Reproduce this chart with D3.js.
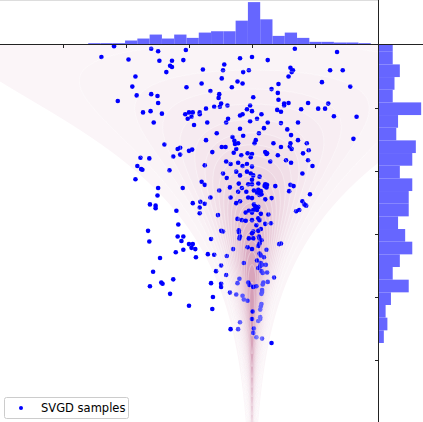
<!DOCTYPE html>
<html><head><meta charset="utf-8">
<script src="https://cdn.jsdelivr.net/npm/d3@7"></script>
<style>html,body{margin:0;padding:0;background:#fff;overflow:hidden;} svg{display:block;}</style>
</head><body><div id="chart"></div>
<script>
// ---- data (data units) ----
const sampleX = [-2.19,-1.60,-1.49,-1.05,-2.39,-1.96,-1.47,-1.27,-1.09,-0.44,-1.30,-1.27,-1.36,-0.78,-0.46,-1.85,-0.48,-1.90,-1.04,-0.80,
-0.66,-1.83,-1.60,-1.50,-0.52,-0.53,-2.13,-1.49,-0.49,-0.60,-0.51,-0.73,-0.39,-1.73,-1.61,-1.43,-1.06,-1.00,-0.94,-0.83,
-0.83,-1.02,-0.96,-0.38,-1.56,-0.71,-0.41,-0.92,-0.56,-0.73,-1.39,0.68,1.35,0.00,-0.19,0.25,0.61,0.65,0.63,-0.05,
-0.14,1.24,1.44,0.58,-0.23,-0.15,-0.32,0.42,1.11,1.56,0.31,0.41,0.02,0.42,0.51,0.58,0.51,0.89,1.21,-0.03,
1.05,1.16,0.78,-0.08,0.00,0.40,0.46,-0.19,-0.15,0.15,1.30,1.66,0.08,-0.03,0.25,0.46,0.73,-0.19,0.19,0.56,
0.11,-0.31,-0.14,0.62,-0.28,-0.27,-0.22,0.06,0.04,0.34,0.73,0.61,0.87,1.61,-1.18,-1.14,-1.00,-0.95,-0.48,-0.42,
-0.63,-1.77,-1.63,-1.25,-1.14,-0.41,-1.82,-1.76,-1.74,-1.31,-0.75,-0.46,-0.40,-1.85,-0.80,-0.75,-1.49,-1.10,-0.52,-1.50,
-0.66,-1.62,-1.53,-1.53,-0.94,-0.82,-0.75,-0.83,-1.20,-0.83,-0.54,-1.17,-1.65,-0.49,-0.46,-1.18,-1.09,-1.12,-1.63,-1.00,
-0.94,-0.65,-0.96,-0.90,-1.09,-1.21,-1.46,-0.89,-0.70,-0.60,-0.40,-0.49,-1.57,-0.57,-0.41,-1.25,-1.44,-1.42,-1.62,-0.65,
-0.49,-0.49,-0.35,-1.30,-0.62,-1.00,-0.63,0.60,0.63,0.46,-0.29,-0.25,-0.17,-0.07,0.00,-0.02,0.21,0.24,0.23,0.41,
0.54,0.81,0.90,0.29,-0.34,-0.22,-0.15,-0.08,0.00,0.62,0.89,0.96,-0.25,-0.08,-0.02,0.02,0.12,-0.19,0.80,-0.21,
-0.16,-0.06,0.00,0.10,0.00,0.21,0.24,0.23,0.20,0.37,0.61,0.66,-0.35,-0.22,-0.09,0.10,0.03,0.14,0.08,0.12,
0.15,-0.06,0.00,0.21,0.31,0.59,0.92,-0.34,-0.25,-0.19,0.80,0.83,0.86,0.03,0.05,0.06,0.10,0.08,0.02,0.00,
-0.05,-0.10,0.75,0.70,0.14,0.26,-0.23,-0.16,-0.10,0.00,0.10,0.12,0.21,0.30,0.07,-0.21,-0.21,0.14,0.10,0.02,
0.00,-0.19,-0.20,-0.05,0.11,0.12,0.02,0.15,0.43,0.46,-0.30,-0.07,0.00,0.10,0.12,0.23,0.12,0.14,0.19,0.08,
-0.13,0.14,0.16,0.13,0.22,0.10,0.15,0.17,0.24,-0.20,0.35,-0.23,-0.06,-0.04,0.02,0.07,0.18,0.17,0.25,0.16,
0.16,0.15,-0.25,-0.15,-0.13,-0.07,0.15,0.14,0.13,0.01,0.13,0.13,0.10,0.00,-0.19,-0.34,-0.22,0.03,0.02,0.07,
0.16,0.31];
const sampleY = [2.98,2.94,2.90,2.92,2.81,2.77,2.75,2.75,2.76,2.69,2.67,2.65,2.57,2.61,2.60,2.50,2.47,2.34,2.33,2.39,
2.27,2.20,2.22,2.19,2.22,2.16,2.11,2.08,2.07,2.02,2.02,1.99,2.04,1.93,1.95,1.91,1.90,1.93,1.93,1.93,
1.90,1.83,1.86,1.83,1.77,1.77,1.77,1.73,1.60,1.49,1.42,2.94,2.89,2.81,2.79,2.76,2.64,2.60,2.57,2.60,
2.57,2.60,2.60,2.50,2.42,2.39,2.33,2.38,2.41,2.34,2.30,2.24,2.17,2.13,2.07,2.08,2.04,2.08,2.07,2.04,
1.99,1.99,1.98,1.98,1.95,1.97,1.94,1.88,1.90,1.90,1.87,1.86,1.83,1.79,1.77,1.76,1.77,1.67,1.68,1.66,
1.60,1.54,1.56,1.57,1.48,1.43,1.44,1.49,1.44,1.44,1.49,1.44,1.44,1.51,1.35,1.37,1.32,1.34,1.38,1.38,
1.30,1.21,1.20,1.23,1.26,1.15,1.08,1.03,1.02,1.01,1.09,0.96,0.89,0.87,0.83,0.78,0.73,0.73,0.69,0.61,
0.58,0.47,0.45,0.41,0.49,0.51,0.48,0.42,0.37,0.33,0.30,0.15,0.05,0.05,0.04,-0.04,-0.04,-0.11,-0.12,-0.16,
-0.16,-0.08,-0.22,-0.24,-0.25,-0.29,-0.38,-0.37,-0.32,-0.33,-0.35,-0.50,-0.60,-0.59,-0.65,-0.72,-0.77,-0.79,-0.83,-0.78,
-0.79,-0.84,-0.93,-0.95,-1.00,-1.14,-1.19,1.39,1.35,1.38,1.29,1.35,1.25,1.28,1.27,1.22,1.30,1.28,1.27,1.25,
1.17,1.28,1.33,1.15,1.11,1.13,1.08,1.11,1.07,1.13,1.17,1.08,0.99,0.99,0.96,0.93,0.91,0.93,0.96,0.80,
0.73,0.79,0.79,0.80,0.86,0.79,0.78,0.74,0.76,0.76,0.78,0.76,0.74,0.67,0.67,0.70,0.69,0.68,0.65,0.62,
0.63,0.58,0.57,0.55,0.57,0.68,0.63,0.58,0.49,0.52,0.52,0.47,0.45,0.47,0.44,0.41,0.43,0.38,0.38,0.34,
0.37,0.34,0.38,0.36,0.32,0.31,0.24,0.22,0.21,0.22,0.25,0.22,0.16,0.17,0.14,0.06,0.03,0.08,0.05,0.04,
0.01,-0.04,-0.07,-0.07,-0.04,-0.07,-0.07,-0.10,-0.16,-0.15,-0.24,-0.21,-0.24,-0.19,-0.15,-0.25,-0.31,-0.34,-0.37,-0.42,
-0.46,-0.46,-0.49,-0.51,-0.49,-0.54,-0.59,-0.62,-0.61,-0.71,-0.69,-0.78,-0.77,-0.81,-0.84,-0.83,-0.77,-0.80,-0.76,-0.89,
-0.92,-0.95,-0.96,-0.98,-1.04,-1.06,-1.11,-1.15,-1.20,-1.23,-1.32,-1.35,-1.38,-1.35,-1.40,-1.51,-1.51,-1.50,-1.57,-1.64,
-1.66,-1.73];
const topHistStart = -2.6, topHistWidth = 0.195;
const topHistCounts = [2,2,2,6,9,15,9,15,10,18,20,20,36,64,38,13,18,10,4,4,3,3,2];
const rightHistStart = -1.73, rightHistWidth = 0.201;   // bins listed bottom -> top
const rightHistCounts = [3,5,4,7,17,8,12,19,15,11,17,17,19,12,19,21,10,11,24,8,9,12,8,8];
const xTicks = [-3,-2,-1,0,1];
const yTicks = [-2,-1,0,1,2];
const legendLabel = "SVGD samples";

// ---- layout ----
const W = 423, H = 422;
const svg = d3.select("#chart").append("svg").attr("width", W).attr("height", H);
svg.append("rect").attr("width", W).attr("height", H).attr("fill", "#fff");

const xScale = d3.scaleLinear().domain([-4, 2]).range([0, 378]);
const yScale = d3.scaleLinear().domain([-3, 3]).range([423, 45]);

svg.append("clipPath").attr("id", "mainClip").append("rect")
  .attr("x", 0).attr("y", 45).attr("width", 378).attr("height", 378);
const main = svg.append("g").attr("clip-path", "url(#mainClip)");

// funnel density (target distribution) on a grid
const nx = 378, ny = 378;
const vals = new Float64Array(nx * ny);
for (let j = 0; j < ny; j++) {
  const v = yScale.invert(45 + j + 0.5);
  const s = 0.35 * Math.exp(0.75 * v);
  const pv = Math.exp(-(v - 1.05) * (v - 1.05) / (2 * 3.0)) / s;
  for (let i = 0; i < nx; i++) {
    const x = xScale.invert(i + 0.5);
    vals[j * nx + i] = pv * Math.exp(-x * x / (2 * s * s));
  }
}
const vmax = d3.max(vals);
const levelFracs = [0.02, 0.05, 0.09, 0.13, 0.17, 0.22, 0.27, 0.32, 0.37, 0.42, 0.47, 0.52, 0.57, 0.62, 0.67, 0.72, 0.77, 0.82, 0.87, 0.92, 0.97];
const contours = d3.contours().size([nx, ny]).thresholds(levelFracs.map(t => t * vmax))(vals);
const cpath = d3.geoPath(d3.geoTransform({point(x, y) { this.stream.point(x, y + 45); }}));
const bandColor = t => d3.interpolateRgb("#fbf6f9", "#d49bb5")(Math.pow(t, 1.2));

// filled bands under the samples
main.append("g").selectAll("path").data(contours).join("path")
  .attr("d", cpath)
  .attr("fill", (d, i) => bandColor(levelFracs[i]));

// scatter
main.append("g").selectAll("circle")
  .data(sampleX.map((x, i) => [x, sampleY[i]]))
  .join("circle")
  .attr("cx", d => xScale(d[0])).attr("cy", d => yScale(d[1]))
  .attr("r", 2.3).attr("fill", "#0000ff");

// contour lines over the samples
main.append("g").selectAll("path").data(contours.slice(1)).join("path")
  .attr("d", cpath)
  .attr("fill", "none")
  .attr("stroke", "#fff").attr("stroke-width", 0.6).attr("stroke-opacity", 0.6);

// top histogram
const topMax = d3.max(topHistCounts);
const yTop = d3.scaleLinear().domain([0, topMax * 1.05]).range([44.5, 0]);
svg.append("g").selectAll("rect").data(topHistCounts).join("rect")
  .attr("x", (d, i) => xScale(topHistStart + i * topHistWidth))
  .attr("width", (d, i) => xScale(topHistStart + (i + 1) * topHistWidth) - xScale(topHistStart + i * topHistWidth))
  .attr("y", d => yTop(d)).attr("height", d => yTop(0) - yTop(d))
  .attr("fill", "#6666ff");

// right histogram
const rMax = d3.max(rightHistCounts);
const xRight = d3.scaleLinear().domain([0, rMax * 1.05]).range([378.5, 423.3]);
svg.append("clipPath").attr("id", "rightClip").append("rect")
  .attr("x", 378).attr("y", 44.5).attr("width", 45).attr("height", 378);
svg.append("g").attr("clip-path", "url(#rightClip)").selectAll("rect").data(rightHistCounts).join("rect")
  .attr("y", (d, i) => yScale(rightHistStart + (i + 1) * rightHistWidth))
  .attr("height", (d, i) => yScale(rightHistStart + i * rightHistWidth) - yScale(rightHistStart + (i + 1) * rightHistWidth))
  .attr("x", xRight(0)).attr("width", d => xRight(d) - xRight(0))
  .attr("fill", "#6666ff");

// spines
svg.append("line").attr("x1", 0).attr("x2", W).attr("y1", 44.5).attr("y2", 44.5)
  .attr("stroke", "#222").attr("stroke-width", 1);
svg.append("line").attr("x1", 378.5).attr("x2", 378.5).attr("y1", 0).attr("y2", H)
  .attr("stroke", "#222").attr("stroke-width", 1);
svg.append("line").attr("x1", 0).attr("x2", 378).attr("y1", 0.5).attr("y2", 0.5)
  .attr("stroke", "#ddd").attr("stroke-width", 1);

// ticks
const xAxis = d3.axisBottom(xScale).tickValues(xTicks).tickSize(3.5).tickFormat("");
svg.append("g").attr("transform", "translate(0,44.5)").call(xAxis)
  .call(g => g.select(".domain").remove())
  .call(g => g.selectAll("line").attr("stroke", "#222"));
const yAxis = d3.axisLeft(yScale).tickValues(yTicks).tickSize(3.5).tickFormat("");
svg.append("g").attr("transform", "translate(378.5,0)").call(yAxis)
  .call(g => g.select(".domain").remove())
  .call(g => g.selectAll("line").attr("stroke", "#222"));

// legend
const lg = svg.append("g");
lg.append("rect").attr("x", 4.5).attr("y", 397.5).attr("width", 124).attr("height", 21)
  .attr("rx", 2).attr("fill", "#fff").attr("fill-opacity", 0.8).attr("stroke", "#ccc");
lg.append("circle").attr("cx", 21).attr("cy", 408).attr("r", 2).attr("fill", "#0000ff");
lg.append("text").attr("x", 41).attr("y", 412).text(legendLabel)
  .attr("font-family", "DejaVu Sans, sans-serif").attr("font-size", 11.5).attr("fill", "#000");
</script>
</body></html>
